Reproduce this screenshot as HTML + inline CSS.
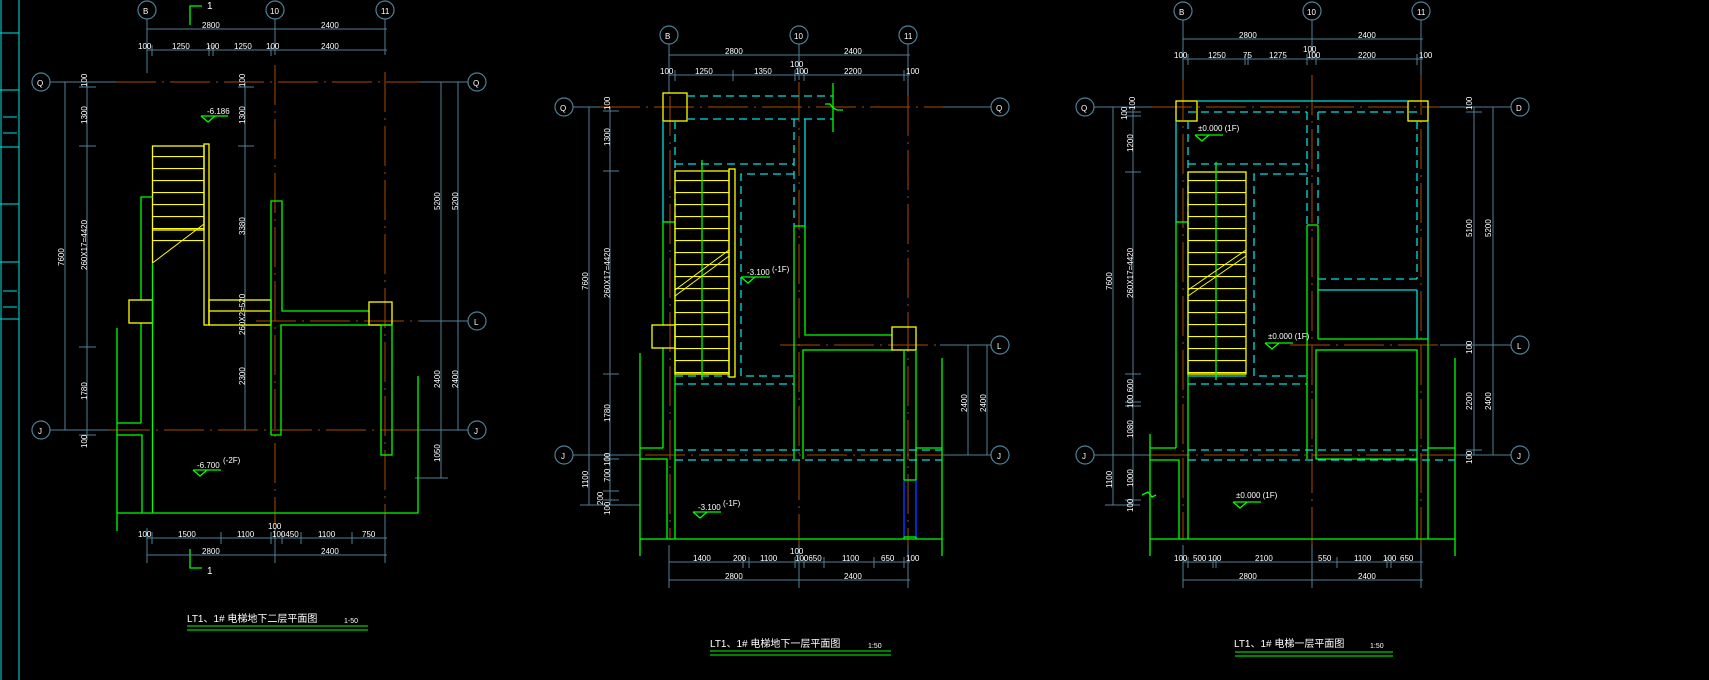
<!DOCTYPE html>
<html><head><meta charset="utf-8"><style>
html,body{margin:0;padding:0;background:#000;}
svg{display:block}
text{font-family:"Liberation Sans","Noto Sans CJK SC",sans-serif;fill:#fff;font-size:8px}
.d{stroke:#4f8099;stroke-width:1;fill:none}
.o{stroke:#a84c00;stroke-width:1;fill:none;stroke-dasharray:40 6 2 6}
.g{stroke:#00ff00;stroke-width:1.3;fill:none}
.y{stroke:#ffff00;stroke-width:1.3;fill:none}
.c{stroke:#00e0e0;stroke-width:1.3;fill:none}
.cd{stroke:#00e0e0;stroke-width:1.3;fill:none;stroke-dasharray:8 5}
.ci{stroke:#4f8099;stroke-width:1.2;fill:none}
.t{font-size:10px}
</style></head><body>
<svg width="1709" height="680" viewBox="0 0 1709 680" xmlns="http://www.w3.org/2000/svg">
<defs>
<pattern id="tr" x="0" y="0" width="10" height="12" patternUnits="userSpaceOnUse"><line x1="0" y1="0.5" x2="10" y2="0.5" stroke="#ffff00" stroke-width="1.2"/></pattern>
</defs>
<!-- left edge frame -->
<g class="c" style="stroke-width:1">
<line x1="1" y1="0" x2="1" y2="680"/><line x1="19" y1="0" x2="19" y2="680"/>
<line x1="0" y1="33" x2="19" y2="33"/><line x1="0" y1="90" x2="19" y2="90"/><line x1="0" y1="147" x2="19" y2="147"/>
<line x1="0" y1="204" x2="19" y2="204"/><line x1="0" y1="262" x2="19" y2="262"/><line x1="0" y1="319" x2="19" y2="319"/>
<line x1="3" y1="117" x2="17" y2="117"/><line x1="3" y1="133" x2="17" y2="133"/><line x1="3" y1="291" x2="17" y2="291"/><line x1="3" y1="307" x2="17" y2="307"/>
</g>

<!-- ============ PLAN 1 ============ -->
<g>
<!-- axes -->
<line class="o" x1="116" y1="82" x2="420" y2="82"/>
<line class="o" x1="256" y1="321" x2="430" y2="321"/>
<line class="o" x1="110" y1="430" x2="420" y2="430"/>
<line class="o" x1="275" y1="65" x2="275" y2="525"/>
<line class="o" x1="385" y1="72" x2="385" y2="515"/>
<line class="d" x1="50" y1="82" x2="116" y2="82"/><line class="d" x1="420" y1="82" x2="468" y2="82"/>
<line class="d" x1="420" y1="321" x2="468" y2="321"/><line class="d" x1="50" y1="430" x2="110" y2="430"/><line class="d" x1="420" y1="430" x2="468" y2="430"/>
<!-- circles -->
<g class="ci"><circle cx="147" cy="10" r="9"/><circle cx="275" cy="10" r="9"/><circle cx="385" cy="10" r="9"/>
<circle cx="41" cy="82" r="9"/><circle cx="477" cy="82" r="9"/><circle cx="477" cy="321" r="9"/><circle cx="41" cy="430" r="9"/><circle cx="477" cy="430" r="9"/></g>
<text x="143" y="14" font-size="10">B</text><text x="270" y="14" font-size="9">10</text><text x="381" y="14" font-size="9">11</text>
<text x="37" y="86" font-size="10">Q</text><text x="473" y="86" font-size="10">Q</text><text x="474" y="325" font-size="10">L</text><text x="38" y="434" font-size="10">J</text><text x="474" y="434" font-size="10">J</text>
<!-- top dims -->
<line class="d" x1="147" y1="19" x2="147" y2="73"/><line class="d" x1="275" y1="19" x2="275" y2="55"/><line class="d" x1="385" y1="19" x2="385" y2="55"/>
<line class="d" x1="147" y1="29" x2="387" y2="29"/><line class="d" x1="147" y1="50" x2="387" y2="50"/>
<line class="d" x1="152" y1="45" x2="152" y2="56"/><line class="d" x1="209" y1="45" x2="209" y2="56"/><line class="d" x1="213" y1="45" x2="213" y2="56"/><line class="d" x1="271" y1="45" x2="271" y2="56"/>
<text x="202" y="28">2800</text><text x="321" y="28">2400</text>
<text x="138" y="49">100</text><text x="172" y="49">1250</text><text x="206" y="49">100</text><text x="234" y="49">1250</text><text x="266" y="49">100</text><text x="321" y="49">2400</text>
<!-- section marks -->
<polyline class="g" points="190,25 190,6 202,6"/><text x="207" y="9" class="t">1</text>
<polyline class="g" points="190,549 190,568 202,568"/><text x="207" y="574" class="t">1</text>
<!-- left dims -->
<line class="d" x1="65" y1="82" x2="65" y2="430"/><line class="d" x1="87" y1="82" x2="87" y2="440"/>
<line class="d" x1="79" y1="87" x2="96" y2="87"/><line class="d" x1="79" y1="146" x2="96" y2="146"/><line class="d" x1="79" y1="347" x2="96" y2="347"/><line class="d" x1="79" y1="435" x2="96" y2="435"/>
<line class="d" x1="245" y1="82" x2="245" y2="430"/><line class="d" x1="238" y1="87" x2="254" y2="87"/><line class="d" x1="238" y1="146" x2="254" y2="146"/>
<g transform="translate(64,266) rotate(-90)"><text>7600</text></g>
<g transform="translate(87,270) rotate(-90)"><text>260X17=4420</text></g>
<g transform="translate(87,124) rotate(-90)"><text>1300</text></g>
<g transform="translate(87,87) rotate(-90)"><text>100</text></g>
<g transform="translate(87,400) rotate(-90)"><text>1780</text></g>
<g transform="translate(87,448) rotate(-90)"><text>100</text></g>
<g transform="translate(245,87) rotate(-90)"><text>100</text></g>
<g transform="translate(245,124) rotate(-90)"><text>1300</text></g>
<g transform="translate(245,235) rotate(-90)"><text>3380</text></g>
<g transform="translate(245,335) rotate(-90)"><text>260X2=520</text></g>
<g transform="translate(245,385) rotate(-90)"><text>2300</text></g>
<!-- right dims -->
<line class="d" x1="441" y1="82" x2="441" y2="478"/><line class="d" x1="458" y1="82" x2="458" y2="430"/>
<line class="d" x1="415" y1="478" x2="448" y2="478"/>
<g transform="translate(440,210) rotate(-90)"><text>5200</text></g>
<g transform="translate(458,210) rotate(-90)"><text>5200</text></g>
<g transform="translate(440,388) rotate(-90)"><text>2400</text></g>
<g transform="translate(458,388) rotate(-90)"><text>2400</text></g>
<g transform="translate(440,462) rotate(-90)"><text>1050</text></g>
<!-- stair -->
<rect x="152.5" y="146" width="51.5" height="106" fill="url(#tr)"/>
<rect class="y" x="152.5" y="146" width="51.5" height="84"/>
<line class="y" x1="152.5" y1="230" x2="152.5" y2="263"/>
<line class="y" x1="152.5" y1="263" x2="204" y2="224" style="stroke-width:1"/>
<rect class="y" x="204" y="144" width="5" height="181"/>
<rect class="y" x="209" y="300" width="62" height="25"/><line class="y" x1="209" y1="311" x2="271" y2="311"/>
<!-- walls -->
<polyline class="g" points="152.5,197 141,197 141,300"/>
<line class="g" x1="141" y1="323" x2="141" y2="423"/>
<rect class="y" x="129" y="300" width="23.5" height="23"/>
<line class="g" x1="152.5" y1="263" x2="152.5" y2="513"/>
<polyline class="g" points="141,423 117,423"/><polyline class="g" points="117,435 142,435 142,513"/>
<line class="g" x1="117" y1="328" x2="117" y2="531"/>
<polyline class="g" points="271,435 271,201 282,201 282,311 369,311"/>
<polyline class="g" points="369,325 281,325 281,435 271,435"/>
<rect class="y" x="369" y="302" width="23" height="23"/>
<rect class="g" x="381" y="325" width="11" height="130"/>
<polyline class="g" points="117,513 418,513 418,376"/>
<!-- elevations -->
<line class="g" x1="201" y1="116" x2="228" y2="116"/><polyline class="g" points="201,116 208,122 215,116"/><text x="207" y="114">-6.186</text>
<line class="g" x1="193" y1="470" x2="221" y2="470"/><polyline class="g" points="193,470 200,476 207,470"/><text x="197" y="468">-6.700</text><text x="223" y="463">(-2F)</text>
<!-- bottom dims -->
<line class="d" x1="147" y1="528" x2="147" y2="563"/><line class="d" x1="275" y1="528" x2="275" y2="563"/><line class="d" x1="385" y1="515" x2="385" y2="563"/>
<line class="d" x1="147" y1="538" x2="387" y2="538"/><line class="d" x1="147" y1="555" x2="387" y2="555"/>
<line class="d" x1="152" y1="532" x2="152" y2="544"/><line class="d" x1="221" y1="532" x2="221" y2="544"/><line class="d" x1="271" y1="532" x2="271" y2="544"/><line class="d" x1="282" y1="532" x2="282" y2="544"/><line class="d" x1="301" y1="532" x2="301" y2="544"/><line class="d" x1="352" y1="532" x2="352" y2="544"/>
<text x="138" y="537">100</text><text x="178" y="537">1500</text><text x="237" y="537">1100</text><text x="268" y="529">100</text><text x="272" y="537">100450</text><text x="318" y="537">1100</text><text x="362" y="537">750</text>
<text x="202" y="554">2800</text><text x="321" y="554">2400</text>
<!-- title -->
<text x="187" y="622" style="font-size:10px">LT1、1# 电梯地下二层平面图</text><text x="344" y="623" style="font-size:7px">1-50</text>
<line class="g" x1="187" y1="626" x2="368" y2="626" style="stroke-width:1"/><line class="g" x1="187" y1="630" x2="368" y2="630" style="stroke-width:1"/>
</g>

<!-- ============ PLAN 2 ============ -->
<g>
<line class="o" x1="600" y1="107" x2="943" y2="107"/>
<line class="o" x1="780" y1="345" x2="940" y2="345"/>
<line class="o" x1="645" y1="455" x2="943" y2="455"/>
<line class="o" x1="799" y1="82" x2="799" y2="545"/>
<line class="o" x1="908" y1="96" x2="908" y2="545"/>
<line class="o" x1="670" y1="96" x2="670" y2="540"/>
<line class="d" x1="573" y1="107" x2="600" y2="107"/><line class="d" x1="943" y1="107" x2="991" y2="107"/>
<line class="d" x1="940" y1="345" x2="991" y2="345"/><line class="d" x1="573" y1="455" x2="640" y2="455"/><line class="d" x1="943" y1="455" x2="991" y2="455"/>
<g class="ci"><circle cx="669" cy="35" r="9"/><circle cx="799" cy="35" r="9"/><circle cx="908" cy="35" r="9"/>
<circle cx="564" cy="107" r="9"/><circle cx="1000" cy="107" r="9"/><circle cx="1000" cy="345" r="9"/><circle cx="564" cy="455" r="9"/><circle cx="1000" cy="455" r="9"/></g>
<text x="665" y="39" font-size="10">B</text><text x="794" y="39" font-size="9">10</text><text x="904" y="39" font-size="9">11</text>
<text x="560" y="111" font-size="10">Q</text><text x="996" y="111" font-size="10">Q</text><text x="997" y="349" font-size="10">L</text><text x="561" y="459" font-size="10">J</text><text x="997" y="459" font-size="10">J</text>
<!-- top dims -->
<line class="d" x1="669" y1="44" x2="669" y2="93"/><line class="d" x1="799" y1="44" x2="799" y2="80"/><line class="d" x1="908" y1="44" x2="908" y2="96"/>
<line class="d" x1="669" y1="55" x2="910" y2="55"/><line class="d" x1="669" y1="75" x2="910" y2="75"/>
<line class="d" x1="675" y1="70" x2="675" y2="81"/><line class="d" x1="733" y1="70" x2="733" y2="81"/><line class="d" x1="795" y1="70" x2="795" y2="81"/><line class="d" x1="804" y1="70" x2="804" y2="81"/><line class="d" x1="904" y1="70" x2="904" y2="81"/>
<text x="725" y="54">2800</text><text x="844" y="54">2400</text>
<text x="660" y="74">100</text><text x="695" y="74">1250</text><text x="754" y="74">1350</text><text x="790" y="67">100</text><text x="795" y="74">100</text><text x="844" y="74">2200</text><text x="906" y="74">100</text>
<!-- left dims -->
<line class="d" x1="589" y1="107" x2="589" y2="505"/><line class="d" x1="610" y1="107" x2="610" y2="505"/>
<line class="d" x1="580" y1="505" x2="640" y2="505"/>
<line class="d" x1="603" y1="111" x2="619" y2="111"/><line class="d" x1="603" y1="171" x2="619" y2="171"/><line class="d" x1="603" y1="374" x2="619" y2="374"/><line class="d" x1="603" y1="459" x2="619" y2="459"/><line class="d" x1="603" y1="491" x2="619" y2="491"/><line class="d" x1="603" y1="500" x2="619" y2="500"/>
<g transform="translate(588,290) rotate(-90)"><text>7600</text></g>
<g transform="translate(588,488) rotate(-90)"><text>1100</text></g>
<g transform="translate(610,298) rotate(-90)"><text>260X17=4420</text></g>
<g transform="translate(610,146) rotate(-90)"><text>1300</text></g>
<g transform="translate(610,110) rotate(-90)"><text>100</text></g>
<g transform="translate(610,422) rotate(-90)"><text>1780</text></g>
<g transform="translate(610,466) rotate(-90)"><text>100</text></g>
<g transform="translate(610,482) rotate(-90)"><text>700</text></g>
<g transform="translate(603,505) rotate(-90)"><text>200</text></g>
<g transform="translate(610,515) rotate(-90)"><text>100</text></g>
<!-- right dims -->
<line class="d" x1="968" y1="345" x2="968" y2="455"/><line class="d" x1="987" y1="345" x2="987" y2="455"/>
<g transform="translate(967,412) rotate(-90)"><text>2400</text></g>
<g transform="translate(986,412) rotate(-90)"><text>2400</text></g>
<!-- top structure -->
<rect class="y" x="663" y="93" width="24" height="28"/>
<line class="cd" x1="687" y1="96" x2="833" y2="96"/><line class="cd" x1="687" y1="119" x2="833" y2="119"/>
<line class="g" x1="833" y1="83" x2="833" y2="132"/>
<polyline class="g" points="825,104 830,104 833,108 837,110 843,110"/>
<line class="c" x1="663" y1="121" x2="663" y2="222"/><line class="cd" x1="675" y1="121" x2="675" y2="222"/>
<line class="g" x1="663" y1="222" x2="663" y2="325"/><line class="g" x1="663" y1="348" x2="663" y2="448"/>
<line class="g" x1="663" y1="222" x2="675" y2="222"/>
<line class="g" x1="675" y1="222" x2="675" y2="459"/>
<line class="g" x1="675" y1="459" x2="675" y2="539"/>
<!-- stair -->
<rect x="675" y="171" width="54" height="203" fill="url(#tr)"/>
<rect class="y" x="675" y="171" width="54" height="203"/>
<rect class="y" x="729" y="169" width="6" height="208"/>
<line class="g" x1="702" y1="160" x2="702" y2="380"/>
<line class="y" x1="675" y1="290" x2="729" y2="250" style="stroke-width:1"/><line class="y" x1="675" y1="296" x2="729" y2="256" style="stroke-width:1"/>
<line class="cd" x1="675" y1="164" x2="794" y2="164"/><line class="cd" x1="675" y1="384" x2="794" y2="384"/>
<line class="cd" x1="675" y1="376" x2="729" y2="376"/>
<polyline class="cd" points="794,174 741,174 741,376 794,376"/>
<rect class="y" x="652" y="325" width="23" height="23"/>
<!-- col 10 -->
<line class="cd" x1="794" y1="119" x2="794" y2="226"/><line class="c" x1="805" y1="119" x2="805" y2="226"/>
<line class="g" x1="794" y1="226" x2="805" y2="226"/>
<line class="g" x1="794" y1="226" x2="794" y2="459"/>
<polyline class="g" points="805,226 805,335 892,335"/>
<polyline class="g" points="892,350 803,350 803,459"/>
<rect class="y" x="892" y="327" width="24" height="23"/>
<line class="g" x1="904" y1="350" x2="904" y2="539"/><line class="g" x1="916" y1="350" x2="916" y2="539"/>
<line x1="904" y1="480" x2="904" y2="537" stroke="#0020ff" stroke-width="1.5"/><line x1="916" y1="480" x2="916" y2="537" stroke="#0020ff" stroke-width="1.5"/>
<line class="g" x1="904" y1="480" x2="916" y2="480"/><line class="g" x1="904" y1="537" x2="916" y2="537"/>
<!-- bottom -->
<polyline class="g" points="663,448 640,448"/><polyline class="g" points="640,459 667,459 667,539"/>
<line class="g" x1="640" y1="353" x2="640" y2="556"/><line class="g" x1="942" y1="358" x2="942" y2="556"/>
<line class="g" x1="640" y1="539" x2="942" y2="539"/>
<line class="cd" x1="675" y1="450" x2="942" y2="450"/><line class="cd" x1="675" y1="460" x2="942" y2="460"/>
<line class="g" x1="916" y1="448" x2="942" y2="448"/>
<!-- elevations -->
<line class="g" x1="741" y1="277" x2="770" y2="277"/><polyline class="g" points="741,277 748,283 755,277"/><text x="747" y="275">-3.100</text><text x="772" y="272">(-1F)</text>
<line class="g" x1="693" y1="512" x2="721" y2="512"/><polyline class="g" points="693,512 700,518 707,512"/><text x="698" y="510">-3.100</text><text x="723" y="506">(-1F)</text>
<!-- bottom dims -->
<line class="d" x1="669" y1="545" x2="669" y2="588"/><line class="d" x1="799" y1="545" x2="799" y2="588"/><line class="d" x1="908" y1="545" x2="908" y2="588"/>
<line class="d" x1="669" y1="562" x2="910" y2="562"/><line class="d" x1="669" y1="580" x2="910" y2="580"/>
<line class="d" x1="743" y1="557" x2="743" y2="568"/><line class="d" x1="749" y1="557" x2="749" y2="568"/><line class="d" x1="795" y1="557" x2="795" y2="568"/><line class="d" x1="804" y1="557" x2="804" y2="568"/><line class="d" x1="824" y1="557" x2="824" y2="568"/><line class="d" x1="874" y1="557" x2="874" y2="568"/><line class="d" x1="904" y1="557" x2="904" y2="568"/>
<text x="693" y="561">1400</text><text x="733" y="561">200</text><text x="760" y="561">1100</text><text x="790" y="554">100</text><text x="795" y="561">100650</text><text x="842" y="561">1100</text><text x="881" y="561">650</text><text x="906" y="561">100</text>
<text x="725" y="579">2800</text><text x="844" y="579">2400</text>
<!-- title -->
<text x="710" y="647" style="font-size:10px">LT1、1# 电梯地下一层平面图</text><text x="868" y="648" style="font-size:7px">1:50</text>
<line class="g" x1="710" y1="651" x2="891" y2="651" style="stroke-width:1"/><line class="g" x1="710" y1="655" x2="891" y2="655" style="stroke-width:1"/>
</g>

<!-- ============ PLAN 3 ============ -->
<g>
<line class="o" x1="1152" y1="107" x2="1440" y2="107"/>
<line class="o" x1="1290" y1="345" x2="1440" y2="345"/>
<line class="o" x1="1150" y1="455" x2="1460" y2="455"/>
<line class="o" x1="1312" y1="75" x2="1312" y2="545"/>
<line class="o" x1="1421" y1="75" x2="1421" y2="545"/>
<line class="o" x1="1183" y1="80" x2="1183" y2="540"/>
<line class="d" x1="1094" y1="107" x2="1152" y2="107"/><line class="d" x1="1440" y1="107" x2="1511" y2="107"/>
<line class="d" x1="1440" y1="345" x2="1511" y2="345"/><line class="d" x1="1094" y1="455" x2="1150" y2="455"/><line class="d" x1="1460" y1="455" x2="1511" y2="455"/>
<g class="ci"><circle cx="1183" cy="11" r="9"/><circle cx="1312" cy="11" r="9"/><circle cx="1421" cy="11" r="9"/>
<circle cx="1085" cy="107" r="9"/><circle cx="1520" cy="107" r="9"/><circle cx="1520" cy="345" r="9"/><circle cx="1085" cy="455" r="9"/><circle cx="1520" cy="455" r="9"/></g>
<text x="1179" y="15" font-size="10">B</text><text x="1307" y="15" font-size="9">10</text><text x="1417" y="15" font-size="9">11</text>
<text x="1081" y="111" font-size="10">Q</text><text x="1516" y="111" font-size="10">D</text><text x="1517" y="349" font-size="10">L</text><text x="1082" y="459" font-size="10">J</text><text x="1517" y="459" font-size="10">J</text>
<!-- top dims -->
<line class="d" x1="1183" y1="20" x2="1183" y2="80"/><line class="d" x1="1312" y1="20" x2="1312" y2="60"/><line class="d" x1="1421" y1="20" x2="1421" y2="75"/>
<line class="d" x1="1183" y1="39" x2="1423" y2="39"/><line class="d" x1="1183" y1="59" x2="1423" y2="59"/>
<line class="d" x1="1188" y1="54" x2="1188" y2="65"/><line class="d" x1="1245" y1="54" x2="1245" y2="65"/><line class="d" x1="1248" y1="54" x2="1248" y2="65"/><line class="d" x1="1307" y1="54" x2="1307" y2="65"/><line class="d" x1="1316" y1="54" x2="1316" y2="65"/><line class="d" x1="1417" y1="54" x2="1417" y2="65"/>
<text x="1239" y="38">2800</text><text x="1358" y="38">2400</text>
<text x="1174" y="58">100</text><text x="1208" y="58">1250</text><text x="1243" y="58">75</text><text x="1269" y="58">1275</text><text x="1303" y="52">100</text><text x="1307" y="58">100</text><text x="1358" y="58">2200</text><text x="1419" y="58">100</text>
<!-- left dims -->
<line class="d" x1="1113" y1="107" x2="1113" y2="505"/><line class="d" x1="1133" y1="107" x2="1133" y2="505"/>
<line class="d" x1="1105" y1="505" x2="1140" y2="505"/>
<line class="d" x1="1125" y1="112" x2="1141" y2="112"/><line class="d" x1="1125" y1="116" x2="1141" y2="116"/><line class="d" x1="1125" y1="172" x2="1141" y2="172"/><line class="d" x1="1125" y1="374" x2="1141" y2="374"/><line class="d" x1="1125" y1="402" x2="1141" y2="402"/><line class="d" x1="1125" y1="406" x2="1141" y2="406"/><line class="d" x1="1125" y1="500" x2="1141" y2="500"/>
<g transform="translate(1112,290) rotate(-90)"><text>7600</text></g>
<g transform="translate(1112,488) rotate(-90)"><text>1100</text></g>
<g transform="translate(1133,298) rotate(-90)"><text>260X17=4420</text></g>
<g transform="translate(1133,152) rotate(-90)"><text>1200</text></g>
<g transform="translate(1127,120) rotate(-90)"><text>100</text></g>
<g transform="translate(1135,110) rotate(-90)"><text>100</text></g>
<g transform="translate(1133,408) rotate(-90)"><text>100 600</text></g>
<g transform="translate(1133,438) rotate(-90)"><text>1080</text></g>
<g transform="translate(1133,487) rotate(-90)"><text>1000</text></g>
<g transform="translate(1133,512) rotate(-90)"><text>100</text></g>
<!-- right dims -->
<line class="d" x1="1474" y1="107" x2="1474" y2="455"/><line class="d" x1="1493" y1="107" x2="1493" y2="455"/>
<line class="d" x1="1466" y1="112" x2="1482" y2="112"/><line class="d" x1="1466" y1="345" x2="1482" y2="345"/><line class="d" x1="1466" y1="450" x2="1482" y2="450"/>
<g transform="translate(1472,237) rotate(-90)"><text>5100</text></g>
<g transform="translate(1491,237) rotate(-90)"><text>5200</text></g>
<g transform="translate(1472,110) rotate(-90)"><text>100</text></g>
<g transform="translate(1472,354) rotate(-90)"><text>100</text></g>
<g transform="translate(1472,410) rotate(-90)"><text>2200</text></g>
<g transform="translate(1491,410) rotate(-90)"><text>2400</text></g>
<g transform="translate(1472,464) rotate(-90)"><text>100</text></g>
<!-- structure -->
<rect class="y" x="1176" y="101" width="21" height="20"/><rect class="y" x="1408" y="101" width="20" height="20"/>
<line class="c" x1="1197" y1="101" x2="1408" y2="101"/>
<line class="cd" x1="1188" y1="112" x2="1307" y2="112"/><line class="cd" x1="1318" y1="112" x2="1417" y2="112"/>
<line class="c" x1="1176" y1="121" x2="1176" y2="222"/><line class="cd" x1="1188" y1="121" x2="1188" y2="222"/>
<line class="c" x1="1428" y1="121" x2="1428" y2="339"/><line class="cd" x1="1417" y1="121" x2="1417" y2="279"/>
<line class="cd" x1="1307" y1="112" x2="1307" y2="225"/><line class="cd" x1="1318" y1="112" x2="1318" y2="225"/>
<line class="cd" x1="1318" y1="279" x2="1417" y2="279"/>
<line class="c" x1="1318" y1="290" x2="1417" y2="290"/><line class="c" x1="1417" y1="290" x2="1417" y2="339"/>
<line class="g" x1="1176" y1="222" x2="1188" y2="222"/>
<line class="g" x1="1176" y1="222" x2="1176" y2="448"/><line class="g" x1="1188" y1="222" x2="1188" y2="539"/>
<!-- stair -->
<rect x="1188" y="172" width="58" height="202" fill="url(#tr)"/>
<rect class="y" x="1188" y="172" width="58" height="202"/>
<line class="g" x1="1216" y1="162" x2="1216" y2="380"/>
<line class="y" x1="1188" y1="290" x2="1246" y2="250" style="stroke-width:1"/><line class="y" x1="1188" y1="296" x2="1246" y2="256" style="stroke-width:1"/>
<line class="cd" x1="1188" y1="164" x2="1307" y2="164"/><line class="cd" x1="1188" y1="384" x2="1307" y2="384"/>
<line class="c" x1="1188" y1="376" x2="1246" y2="376"/>
<polyline class="cd" points="1307,174 1254,174 1254,376 1307,376"/>
<!-- center -->
<line class="g" x1="1307" y1="225" x2="1318" y2="225"/>
<line class="g" x1="1307" y1="225" x2="1307" y2="459"/>
<line class="g" x1="1318" y1="225" x2="1318" y2="339"/>
<line class="g" x1="1318" y1="339" x2="1428" y2="339"/>
<rect class="g" x="1316" y="350" width="101" height="109"/>
<line class="g" x1="1428" y1="339" x2="1428" y2="539"/><line class="g" x1="1417" y1="459" x2="1417" y2="539"/>
<!-- bottom -->
<line class="g" x1="1150" y1="448" x2="1176" y2="448"/><polyline class="g" points="1150,460 1179,460 1179,539"/>
<line class="g" x1="1150" y1="434" x2="1150" y2="556"/><line class="g" x1="1455" y1="358" x2="1455" y2="556"/>
<line class="g" x1="1150" y1="539" x2="1455" y2="539"/>
<line class="g" x1="1428" y1="448" x2="1455" y2="448"/>
<line class="cd" x1="1188" y1="450" x2="1428" y2="450"/><line class="cd" x1="1188" y1="460" x2="1455" y2="460"/>
<polyline class="g" points="1142,495 1148,492 1152,497 1156,495"/>
<!-- elevations -->
<line class="g" x1="1195" y1="135" x2="1223" y2="135"/><polyline class="g" points="1195,135 1202,141 1209,135"/><text x="1198" y="131">±0.000 (1F)</text>
<line class="g" x1="1265" y1="343" x2="1293" y2="343"/><polyline class="g" points="1265,343 1272,349 1279,343"/><text x="1268" y="339">±0.000 (1F)</text>
<line class="g" x1="1233" y1="502" x2="1261" y2="502"/><polyline class="g" points="1233,502 1240,508 1247,502"/><text x="1236" y="498">±0.000 (1F)</text>
<!-- bottom dims -->
<line class="d" x1="1183" y1="545" x2="1183" y2="588"/><line class="d" x1="1312" y1="545" x2="1312" y2="588"/><line class="d" x1="1421" y1="545" x2="1421" y2="588"/>
<line class="d" x1="1183" y1="562" x2="1423" y2="562"/><line class="d" x1="1183" y1="580" x2="1423" y2="580"/>
<line class="d" x1="1188" y1="557" x2="1188" y2="568"/><line class="d" x1="1213" y1="557" x2="1213" y2="568"/><line class="d" x1="1216" y1="557" x2="1216" y2="568"/><line class="d" x1="1337" y1="557" x2="1337" y2="568"/><line class="d" x1="1387" y1="557" x2="1387" y2="568"/><line class="d" x1="1391" y1="557" x2="1391" y2="568"/>
<text x="1174" y="561">100</text><text x="1193" y="561">500</text><text x="1208" y="561">100</text><text x="1255" y="561">2100</text><text x="1318" y="561">550</text><text x="1354" y="561">1100</text><text x="1383" y="561">100</text><text x="1400" y="561">650</text>
<text x="1239" y="579">2800</text><text x="1358" y="579">2400</text>
<!-- title -->
<text x="1234" y="647" style="font-size:10px">LT1、1# 电梯一层平面图</text><text x="1370" y="648" style="font-size:7px">1:50</text>
<line class="g" x1="1235" y1="652" x2="1393" y2="652" style="stroke-width:1"/><line class="g" x1="1235" y1="656" x2="1393" y2="656" style="stroke-width:1"/>
</g>
</svg>
</body></html>
